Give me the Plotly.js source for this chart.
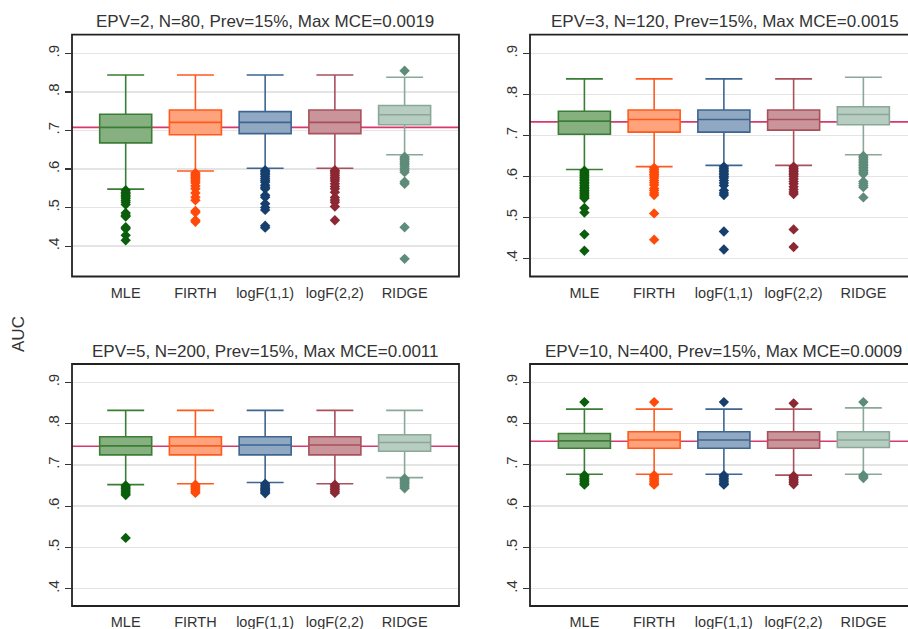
<!DOCTYPE html>
<html>
<head>
<meta charset="utf-8">
<script src="https://cdn.plot.ly/plotly-3.0.1.min.js"></script>
<style>html,body{margin:0;padding:0;background:#fff;}#chart{width:908px;height:629px;}</style>
</head>
<body>
<div id="chart"></div>
<script>
// ---------- data ----------
const methods = ["MLE", "FIRTH", "logF(1,1)", "logF(2,2)", "RIDGE"];
const panelTitles = [
  "EPV=2, N=80, Prev=15%, Max MCE=0.0019",
  "EPV=3, N=120, Prev=15%, Max MCE=0.0015",
  "EPV=5, N=200, Prev=15%, Max MCE=0.0011",
  "EPV=10, N=400, Prev=15%, Max MCE=0.0009"
];
const refAUC = [0.708, 0.733, 0.745, 0.757];
const yTickVals = [0.4, 0.5, 0.6, 0.7, 0.8, 0.9];
const yTickText = [".4", ".5", ".6", ".7", ".8", ".9"];

// panel 1: EPV=2
const p1_lo  = [0.548, 0.595, 0.602, 0.602, 0.637];
const p1_q1  = [0.668, 0.689, 0.692, 0.692, 0.715];
const p1_med = [0.708, 0.721, 0.721, 0.721, 0.741];
const p1_q3  = [0.742, 0.753, 0.749, 0.753, 0.765];
const p1_hi  = [0.844, 0.844, 0.844, 0.844, 0.838];
const p1_out = [
  [0.545,0.540,0.536,0.532,0.528,0.524,0.519,0.514,0.508,0.486,0.480,0.477,0.449,0.445,0.428,0.415],
  [0.590,0.586,0.582,0.578,0.574,0.569,0.564,0.556,0.549,0.538,0.527,0.519,0.491,0.487,0.467,0.463],
  [0.597,0.593,0.589,0.585,0.580,0.575,0.570,0.566,0.558,0.553,0.549,0.532,0.527,0.510,0.500,0.494,0.453,0.448],
  [0.597,0.593,0.589,0.584,0.579,0.574,0.569,0.562,0.555,0.549,0.540,0.526,0.520,0.514,0.503,0.467],
  [0.855,0.632,0.628,0.624,0.620,0.616,0.612,0.607,0.602,0.597,0.592,0.567,0.562,0.449,0.367]
];

// panel 2: EPV=3
const p2_lo  = [0.617, 0.624, 0.627, 0.627, 0.653];
const p2_q1  = [0.703, 0.708, 0.708, 0.713, 0.726];
const p2_med = [0.735, 0.739, 0.739, 0.739, 0.751];
const p2_q3  = [0.759, 0.762, 0.762, 0.762, 0.770];
const p2_hi  = [0.838, 0.838, 0.838, 0.838, 0.842];
const p2_out = [
  [0.614,0.610,0.606,0.602,0.598,0.594,0.590,0.586,0.582,0.578,0.574,0.570,0.566,0.562,0.558,0.554,0.550,0.547,0.523,0.512,0.459,0.419],
  [0.621,0.617,0.613,0.609,0.605,0.601,0.596,0.590,0.585,0.579,0.571,0.566,0.560,0.555,0.510,0.446],
  [0.624,0.620,0.616,0.612,0.608,0.604,0.600,0.596,0.590,0.584,0.578,0.566,0.560,0.555,0.466,0.422],
  [0.624,0.620,0.616,0.612,0.608,0.604,0.600,0.594,0.588,0.582,0.575,0.568,0.562,0.557,0.471,0.428],
  [0.650,0.646,0.642,0.638,0.634,0.630,0.626,0.622,0.618,0.614,0.610,0.606,0.588,0.583,0.578,0.574,0.549]
];

// panel 3: EPV=5
const p3_lo  = [0.652, 0.654, 0.657, 0.654, 0.669];
const p3_q1  = [0.724, 0.724, 0.724, 0.724, 0.733];
const p3_med = [0.746, 0.746, 0.748, 0.748, 0.754];
const p3_q3  = [0.768, 0.768, 0.768, 0.768, 0.773];
const p3_hi  = [0.832, 0.832, 0.832, 0.832, 0.832];
const p3_out = [
  [0.650,0.646,0.643,0.639,0.635,0.631,0.627,0.523],
  [0.652,0.648,0.644,0.640,0.636,0.632],
  [0.654,0.650,0.646,0.643,0.640,0.637,0.634,0.631],
  [0.652,0.648,0.644,0.640,0.636,0.632],
  [0.667,0.664,0.661,0.658,0.655,0.651,0.647,0.643]
];

// panel 4: EPV=10
const p4_lo  = [0.677, 0.677, 0.677, 0.675, 0.677];
const p4_q1  = [0.740, 0.740, 0.740, 0.740, 0.742];
const p4_med = [0.758, 0.760, 0.760, 0.760, 0.760];
const p4_q3  = [0.776, 0.780, 0.780, 0.780, 0.780];
const p4_hi  = [0.835, 0.835, 0.835, 0.835, 0.838];
const p4_out = [
  [0.852,0.675,0.671,0.667,0.663,0.659,0.655,0.652],
  [0.852,0.675,0.671,0.667,0.663,0.659,0.655,0.652],
  [0.852,0.675,0.671,0.667,0.663,0.659,0.655,0.652],
  [0.849,0.673,0.669,0.665,0.661,0.657,0.653],
  [0.852,0.675,0.671,0.668]
];

// ---------- styles ----------
const lineColors    = ["#3a7d34", "#ff5a1e", "#3d6591", "#a8505b", "#8aa898"];
const fillColors    = ["#86b07f", "#ffa37d", "#91a8c3", "#c9959b", "#b8cdc2"];
const outlierColors = ["#0b5e0b", "#ff4a0a", "#173f6e", "#8b2833", "#5f8c7a"];

const panels = [
  {lo:p1_lo, q1:p1_q1, med:p1_med, q3:p1_q3, hi:p1_hi, out:p1_out},
  {lo:p2_lo, q1:p2_q1, med:p2_med, q3:p2_q3, hi:p2_hi, out:p2_out},
  {lo:p3_lo, q1:p3_q1, med:p3_med, q3:p3_q3, hi:p3_hi, out:p3_out},
  {lo:p4_lo, q1:p4_q1, med:p4_med, q3:p4_q3, hi:p4_hi, out:p4_out}
];
const axSuffix = ["", "2", "3", "4"];

const traces = [];
panels.forEach((p, pi) => {
  const xa = "x" + axSuffix[pi], ya = "y" + axSuffix[pi];
  methods.forEach((m, mi) => {
    traces.push({
      type: "box", x: [m], xaxis: xa, yaxis: ya,
      q1: [p.q1[mi]], median: [p.med[mi]], q3: [p.q3[mi]],
      lowerfence: [p.lo[mi]], upperfence: [p.hi[mi]],
      boxpoints: false, width: 0.746, whiskerwidth: 0.71,
      line: {color: lineColors[mi], width: 1.6},
      fillcolor: fillColors[mi], hoverinfo: "skip"
    });
    traces.push({
      type: "scatter", mode: "markers", xaxis: xa, yaxis: ya,
      x: p.out[mi].map(() => m), y: p.out[mi],
      marker: {symbol: "diamond", size: 8, color: outlierColors[mi], line: {width: 0}},
      hoverinfo: "skip"
    });
  });
});

// ---------- layout ----------
const font = "Liberation Sans, Arial, sans-serif";
const xLeft = [0.0793, 0.5055], xRight = [0.5837, 1.0];
const yTop = [0.5604, 0.9448], yBot = [0.0366, 0.4213];
const yRanges = [[0.3212, 0.9485], [0.3562, 0.9455], [0.358, 0.9443], [0.358, 0.9443]];
const xRanges = [[-0.77, 4.78], [-0.78, 4.64], [-0.77, 4.78], [-0.78, 4.64]];
const xDomains = [xLeft, xRight, xLeft, xRight];
const yDomains = [yTop, yTop, yBot, yBot];

const layout = {
  width: 908, height: 629,
  margin: {l: 0, r: 0, t: 0, b: 0},
  paper_bgcolor: "#ffffff", plot_bgcolor: "#ffffff",
  showlegend: false, boxmode: "overlay",
  font: {family: font, color: "#333333"},
  shapes: [], annotations: []
};

for (let i = 0; i < 4; i++) {
  const s = axSuffix[i];
  layout["xaxis" + s] = {
    domain: xDomains[i], anchor: "y" + s, type: "category",
    categoryorder: "array", categoryarray: methods,
    range: xRanges[i], showgrid: false, zeroline: false, showline: false,
    ticks: "", tickfont: {size: 14.5, color: "#333333", family: font},
    ticklabelstandoff: 6, fixedrange: true
  };
  layout["yaxis" + s] = {
    domain: yDomains[i], anchor: "x" + s, range: yRanges[i],
    tickvals: yTickVals, ticktext: yTickText, tickangle: -90,
    ticks: "outside", ticklen: 6, tickwidth: 1.2, tickcolor: "#333333",
    tickfont: {size: 15, color: "#333333", family: font},
    showgrid: true, gridcolor: "#e4e4e4", gridwidth: 1.5,
    zeroline: false, showline: false, fixedrange: true
  };
  // reference line (beneath the boxes)
  layout.shapes.push({
    type: "line", layer: "below",
    xref: "paper", x0: xDomains[i][0], x1: xDomains[i][1],
    yref: "y" + s, y0: refAUC[i], y1: refAUC[i],
    line: {color: "#d8386a", width: 1.6}
  });
  // frame
  layout.shapes.push({
    type: "rect", layer: "above", xref: "paper", yref: "paper",
    x0: xDomains[i][0], x1: (i % 2 === 1) ? 1.02 : xDomains[i][1],
    y0: yDomains[i][0], y1: yDomains[i][1],
    line: {color: "#222222", width: 1.8}
  });
}

const titleX = [0.2924, 0.7981, 0.2919, 0.7963];
const titleY = [0.9666, 0.9666, 0.4404, 0.4404];
for (let i = 0; i < 4; i++) {
  layout.annotations.push({
    text: panelTitles[i], xref: "paper", yref: "paper",
    x: titleX[i], y: titleY[i], xanchor: "center", yanchor: "middle",
    showarrow: false, font: {size: 17, color: "#333333", family: font}
  });
}
layout.annotations.push({
  text: "AUC", xref: "paper", yref: "paper", x: 0.0209, y: 0.469,
  xanchor: "center", yanchor: "middle", textangle: -90, showarrow: false,
  font: {size: 17, color: "#333333", family: font}
});

Plotly.newPlot("chart", traces, layout, {staticPlot: true, displayModeBar: false});
</script>
</body>
</html>
